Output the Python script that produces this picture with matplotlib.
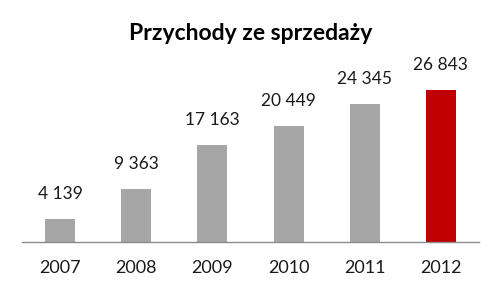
import matplotlib.pyplot as plt

years = ["2007", "2008", "2009", "2010", "2011", "2012"]
revenue = [4139, 9363, 17163, 20449, 24345, 26843]
bar_colors = ["#A6A6A6"] * 5 + ["#C00000"]
value_labels = ["4 139", "9 363", "17 163", "20 449", "24 345", "26 843"]

plt.rcParams['font.family'] = ['Lato', 'DejaVu Sans']

fig = plt.figure(figsize=(5.02, 2.95), dpi=100)
# plot area in pixels: x 22..479, y 72..242 (from top)
ax = fig.add_axes([22 / 502, 1 - 242 / 295, 457 / 502, 170 / 295])

x = range(len(years))
ax.bar(x, revenue, width=30 / 76.2, color=bar_colors)

for xi, v, lab in zip(x, revenue, value_labels):
    ax.annotate(lab, (xi, v), xytext=(0, 12), textcoords="offset points",
                ha="center", va="bottom", fontsize=12.5, color="#1a1a1a")

ax.set_xlim(-0.5, len(years) - 0.5)
ax.set_ylim(0, 30000)
ax.set_xticks(list(x))
ax.set_xticklabels(years, fontsize=13, color="#1a1a1a")
ax.tick_params(axis="x", length=0, pad=13)
ax.set_yticks([])

for side in ["top", "right", "left"]:
    ax.spines[side].set_visible(False)
ax.spines["bottom"].set_color("#8c8c8c")
ax.spines["bottom"].set_linewidth(1.0)

fig.text(0.5, 1 - 34 / 295, "Przychody ze sprzedaży", ha="center", va="center",
         fontsize=16.5, fontweight="bold", color="black")

fig.savefig("out.png", dpi=100)
